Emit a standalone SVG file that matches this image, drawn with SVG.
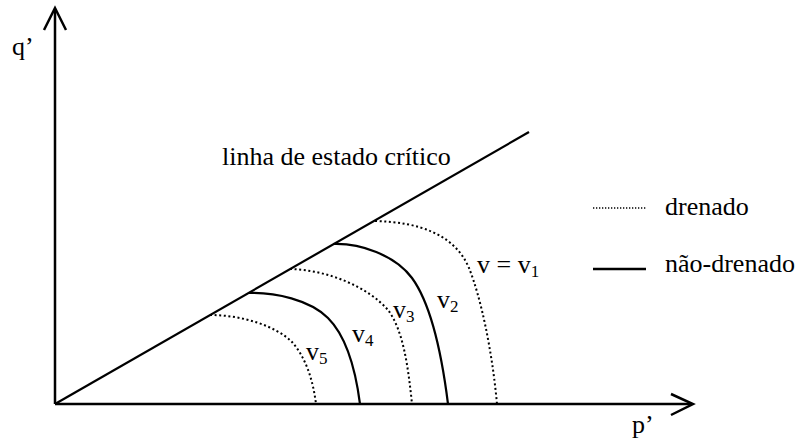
<svg xmlns="http://www.w3.org/2000/svg" width="797" height="441" viewBox="0 0 797 441">
<style>
  text { font-family: 'Liberation Serif', 'DejaVu Serif', serif; font-size: 26px; fill: #000; }
  .sub { font-size: 17px; }
  .axis { stroke: #000; stroke-width: 2.5; fill: none; }
  .solid { stroke: #000; stroke-width: 2.2; fill: none; }
  .dotted { stroke: #000; stroke-width: 2; fill: none; stroke-dasharray: 2 2.6; }
</style>
<rect width="797" height="441" fill="#fff"/>
<g id="axes" font-family="Liberation Serif, serif">
  <line class="axis" x1="55" y1="404" x2="55" y2="9"/>
  <polyline class="axis" points="44,30 55,8 66,30"/>
  <line class="axis" x1="55" y1="404" x2="692" y2="404"/>
  <polyline class="axis" points="671,394 693,404 671,415"/>
  <text x="12" y="55">q’</text>
  <text x="632" y="433">p’</text>
</g>
<g id="csl">
  <line class="solid" x1="55" y1="404" x2="529" y2="132"/>
  <text x="222" y="165">linha de estado crítico</text>
</g>
<g id="curves">
  <path id="v1" class="dotted" d="M375,221 C420,222 455,235 469,268 C481,298 492,350 497,404"/>
  <path id="v2" class="solid" d="M333,244 C360,243 395,255 412,278 C428,300 440,340 448,404"/>
  <path id="v3" class="dotted" d="M290,269 C328,270 368,287 388,310 C403,330 408,365 412,404"/>
  <path id="v4" class="solid" d="M248,293 C275,292 310,300 328,318 C345,335 355,365 360,404"/>
  <path id="v5" class="dotted" d="M210,315 C242,315 276,326 292,342 C306,358 313,380 316,404"/>
</g>
<g id="labels">
  <text x="477" y="273">v = v<tspan class="sub" dy="4">1</tspan></text>
  <text x="437" y="308">v<tspan class="sub" dy="4">2</tspan></text>
  <text x="393" y="318">v<tspan class="sub" dy="4">3</tspan></text>
  <text x="352" y="342">v<tspan class="sub" dy="4">4</tspan></text>
  <text x="306" y="360">v<tspan class="sub" dy="4">5</tspan></text>
</g>
<g id="legend">
  <line x1="593" y1="208" x2="646" y2="208" stroke="#000" stroke-width="1.3" stroke-dasharray="1.3 1.7"/>
  <text x="665" y="215">drenado</text>
  <line x1="593" y1="269" x2="646" y2="269" stroke="#000" stroke-width="2.5"/>
  <text x="665" y="272">não-drenado</text>
</g>
</svg>
